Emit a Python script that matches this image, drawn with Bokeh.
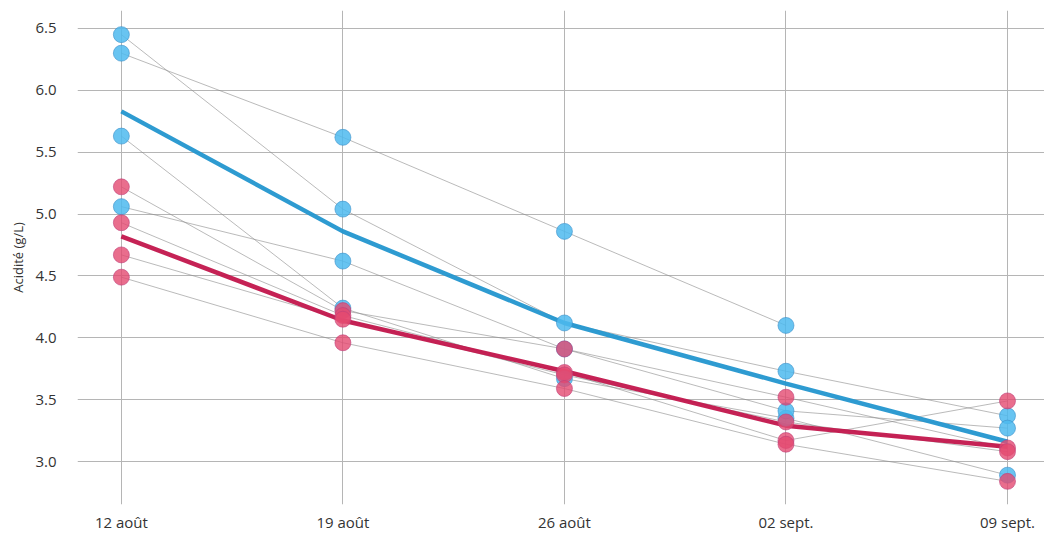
from bokeh.plotting import figure
from bokeh.embed import file_html
from bokeh.resources import INLINE
from bokeh.models import FixedTicker, Range1d
import math

# ---- data ----
dates = ["12 août", "19 août", "26 août", "02 sept.", "09 sept."]
xpos = [0, 1, 2, 3, 4]

blue_series = [
    [6.30, 5.62, 4.86, 4.10, float("nan")],
    [6.45, 5.04, 4.12, 3.73, 3.37],
    [5.63, 4.24, 3.67, 3.35, 2.89],
    [5.06, 4.62, 3.91, 3.41, 3.27],
]
red_series = [
    [5.22, 4.22, 3.91, 3.52, 3.11],
    [4.93, 4.18, 3.72, 3.17, 3.49],
    [4.67, 4.15, 3.70, 3.32, 3.08],
    [4.49, 3.96, 3.59, 3.14, 2.84],
]
blue_mean = [5.83, 4.86, 4.12, 3.63, 3.16]
red_mean = [4.82, 4.14, 3.73, 3.29, 3.12]
y_ticks = [3.0, 3.5, 4.0, 4.5, 5.0, 5.5, 6.0, 6.5]

FONT = "Open Sans"
BLUE = "#4dbaee"
BLUE_LINE = "#3a8fc9"
RED = "#e34a70"
RED_LINE = "#c0407a"

p = figure(frame_width=967, frame_height=494, output_backend="svg", toolbar_location=None,
           x_range=Range1d(-0.198, 4.167), y_range=Range1d(2.653, 6.645),
           min_border_top=10, min_border_left=77, min_border_right=0, min_border_bottom=0)
p.outline_line_color = None

# thin connecting lines
for s in blue_series + red_series:
    p.line(xpos, s, line_color="#8a8a8a", line_width=0.7, line_alpha=0.85)

# mean lines
p.line(xpos, red_mean, line_color="#c2164c", line_width=4.5, line_alpha=0.95)
p.line(xpos, blue_mean, line_color="#2396cf", line_width=4.5, line_alpha=0.95)

# points
for s in blue_series:
    xs = [x for x, v in zip(xpos, s) if not math.isnan(v)]
    ys = [v for v in s if not math.isnan(v)]
    p.scatter(xs, ys, size=16, fill_color=BLUE, fill_alpha=0.85,
              line_color=BLUE_LINE, line_alpha=0.6, line_width=1)
for s in red_series:
    p.scatter(xpos, s, size=16, fill_color=RED, fill_alpha=0.8,
              line_color=RED_LINE, line_alpha=0.6, line_width=1)

# axes
p.xaxis.ticker = FixedTicker(ticks=xpos)
p.xaxis.major_label_overrides = {x: d for x, d in zip(xpos, dates)}
p.yaxis.ticker = FixedTicker(ticks=y_ticks)
p.yaxis.major_label_overrides = {v: f"{v:.1f}" for v in y_ticks}
for ax in (p.xaxis, p.yaxis):
    ax.axis_line_color = None
    ax.major_tick_line_color = None
    ax.minor_tick_line_color = None
    ax.major_label_text_font = FONT
    ax.major_label_text_font_size = "15px"
    ax.major_label_text_color = "#333333"
p.xaxis.major_label_standoff = 1
p.yaxis.major_label_standoff = 15
p.yaxis.axis_label = "Acidité (g/L)"
p.yaxis.axis_label_text_font = FONT
p.yaxis.axis_label_text_font_size = "13px"
p.yaxis.axis_label_text_font_style = "normal"
p.yaxis.axis_label_text_color = "#333333"
p.yaxis.axis_label_standoff = 5

p.xgrid.grid_line_color = "#b5b5b5"
p.ygrid.grid_line_color = "#b5b5b5"
p.xgrid.grid_line_width = 1
p.ygrid.grid_line_width = 1

open("out.html", "w").write(file_html(p, INLINE))
